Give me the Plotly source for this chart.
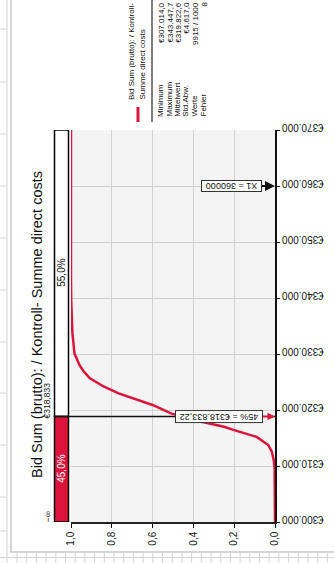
import plotly.graph_objects as go

# Cumulative ascending distribution of the simulated bid sum
values = [300000, 307014, 309500, 311000, 312500, 313750, 315200, 316400, 317000,
          317900, 318833.22, 319160, 319400, 320900, 322000, 323000, 324200, 325700,
          327000, 328000, 330100, 333700, 339600, 343447.7, 370000]
cum_prob = [0.0, 0.0, 0.002, 0.006, 0.015, 0.033, 0.09, 0.20, 0.25,
            0.36, 0.45, 0.49, 0.51, 0.60, 0.69, 0.77, 0.84, 0.909,
            0.94, 0.958, 0.983, 0.993, 0.999, 1.0, 1.0]

prob_ticks = [0.0, 0.2, 0.4, 0.6, 0.8, 1.0]
prob_tick_labels = ["0,0", "0,2", "0,4", "0,6", "0,8", "1,0"]
value_ticks = [300000, 310000, 320000, 330000, 340000, 350000, 360000, 370000]
value_tick_labels = ["€300.000", "€310.000", "€320.000", "€330.000",
                     "€340.000", "€350.000", "€360.000", "€370.000"]

left_delimiter = 318833.22
left_prob = 0.45
marker_x1 = 360000

title = "Bid Sum (brutto): / Kontroll- Summe direct costs"
legend_lines = ["Bid Sum (brutto): / Kontroll-", "Summe direct costs"]
stat_names = ["Minimum", "Maximum", "Mittelwert", "Std.Abw.", "Werte", "Fehler"]
stat_values = ["€307.014,0", "€343.447,7", "€319.822,6", "€4.617,0", "9915 / 1000", "8"]

RED = "#dc143c"
FONT = "Liberation Sans"

W, H = 334, 563
L, R, T, B = 71, 59, 130, 41
PW, PH = W - L - R, H - T - B


def fx(px):
    return (px - L) / PW


def fy(py):
    return (H - B - py) / PH


def prob_at(px):
    # data x for a pixel column (probability axis runs right to left)
    return (L + PW - px) / PW


fig = go.Figure()

fig.add_trace(go.Scatter(
    x=cum_prob, y=values, mode="lines",
    line=dict(color=RED, width=2.5), cliponaxis=False,
    hoverinfo="skip", showlegend=False))

# delimiter triangles
fig.add_trace(go.Scatter(
    x=[prob_at(56), prob_at(56)], y=[left_delimiter, value_ticks[0]],
    mode="markers", marker=dict(symbol="triangle-right", size=8, color="#111"),
    cliponaxis=False, hoverinfo="skip", showlegend=False))

shapes = []
ann = []

# spreadsheet grid around the chart window
grid = dict(color="#d4d4d4", width=1)
shapes.append(dict(type="line", xref="paper", yref="paper", x0=fx(11), x1=fx(11),
                   y0=fy(0), y1=fy(552), line=dict(color="#c8c8c8", width=1.5), layer="below"))
shapes.append(dict(type="line", xref="paper", yref="paper", x0=fx(7), x1=fx(7),
                   y0=fy(0), y1=fy(563), line=grid, layer="below"))
for ry in [29, 82, 134, 186, 238, 290, 342, 393, 445, 497, 531]:
    shapes.append(dict(type="line", xref="paper", yref="paper", x0=fx(0), x1=fx(7),
                       y0=fy(ry), y1=fy(ry), line=grid, layer="below"))
shapes.append(dict(type="line", xref="paper", yref="paper", x0=fx(10), x1=fx(334),
                   y0=fy(552), y1=fy(552), line=dict(color="#c8c8c8", width=1.5), layer="below"))
shapes.append(dict(type="line", xref="paper", yref="paper", x0=fx(0), x1=fx(334),
                   y0=fy(557.5), y1=fy(557.5), line=grid, layer="below"))
cx = 17.0
while cx < 334:
    shapes.append(dict(type="line", xref="paper", yref="paper", x0=fx(cx), x1=fx(cx),
                       y0=fy(552), y1=fy(563), line=grid, layer="below"))
    cx += 9.7

# delimiter bars
shapes.append(dict(type="rect", xref="paper", yref="y", x0=fx(54.5), x1=fx(68.5),
                   y0=left_delimiter, y1=value_ticks[-1], fillcolor="white",
                   line=dict(color="#000", width=1.5)))
shapes.append(dict(type="rect", xref="paper", yref="y", x0=fx(54.5), x1=fx(68.5),
                   y0=value_ticks[0], y1=left_delimiter, fillcolor=RED,
                   line=dict(color="#000", width=1.5)))
shapes.append(dict(type="line", xref="paper", yref="y", x0=fx(54), x1=1,
                   y0=left_delimiter, y1=left_delimiter, line=dict(color="#111", width=1.5)))

# legend marker and divider
shapes.append(dict(type="line", xref="paper", yref="paper", x0=fx(138), x1=fx(138),
                   y0=fy(107), y1=fy(122), line=dict(color=RED, width=3)))
shapes.append(dict(type="line", xref="paper", yref="paper", x0=fx(152), x1=fx(152),
                   y0=fy(-2), y1=fy(122), line=dict(color="#808080", width=2)))


def label(x, y, text, size=9, color="#111", yref="paper", **kw):
    d = dict(xref="paper", yref=yref, x=x, y=y, text=text, textangle=-90,
             showarrow=False, xanchor="center", yanchor="middle",
             font=dict(family=FONT, size=size, color=color))
    d.update(kw)
    ann.append(d)


label(fx(37), fy(325), title, size=14.5)
label(fx(61.5), (left_delimiter + value_ticks[-1]) / 2,
      f"{(1 - left_prob) * 100:.1f}%".replace(".", ","), size=10, yref="y")
label(fx(61.5), (left_delimiter + value_ticks[0]) / 2,
      f"{left_prob * 100:.1f}%".replace(".", ","), size=10, color="white", yref="y")
label(fx(47.5), left_delimiter, f"€{int(left_delimiter):,}", size=8.5, yref="y",
      yanchor="bottom", yshift=-4.5)
label(fx(47.5), value_ticks[0], "−∞", yref="y", yanchor="bottom", yshift=-3)

# value callouts pointing at the value axis
ann.append(dict(xref="x", yref="y", x=0, y=left_delimiter,
                text=f"{int(left_prob * 100)}% = €318.833,22", textangle=180,
                showarrow=True, axref="pixel", ayref="pixel", ax=-56, ay=0,
                arrowhead=2, arrowsize=1, arrowwidth=1.5, arrowcolor=RED,
                bgcolor="white", bordercolor="#333", borderwidth=1, borderpad=0,
                width=86, height=11, font=dict(family=FONT, size=9, color="#111")))
ann.append(dict(xref="x", yref="y", x=0, y=marker_x1,
                text=f"X1 = {marker_x1}", textangle=180,
                showarrow=True, axref="pixel", ayref="pixel", ax=-43, ay=0,
                arrowhead=2, arrowsize=1, arrowwidth=2, arrowcolor="#111",
                bgcolor="white", bordercolor="#333", borderwidth=1, borderpad=0,
                width=59, height=10, font=dict(family=FONT, size=9, color="#111")))

# legend block
for i, line in enumerate(legend_lines):
    label(fx(131.5 + 10 * i), fy(102), line, size=8, yanchor="bottom")
stat_x = [160.5, 169, 177.3, 185.7, 194.5, 203]
for sx, name, val in zip(stat_x, stat_names, stat_values):
    label(fx(sx), fy(119), name, size=8, yanchor="bottom")
    label(fx(sx + 1), fy(0), val, size=8, yanchor="top")

fig.update_layout(
    width=W, height=H,
    margin=dict(l=L, r=R, t=T, b=B, pad=0),
    paper_bgcolor="white", plot_bgcolor="#f4f4f4",
    showlegend=False,
    shapes=shapes, annotations=ann,
    font=dict(family=FONT, size=10, color="#111"),
    xaxis=dict(range=[1, 0], tickvals=prob_ticks, ticktext=prob_tick_labels,
               tickangle=-90, ticks="outside", ticklen=4, tickcolor="#111",
               showgrid=True, gridcolor="#d2d2d2", gridwidth=1, zeroline=False,
               showline=True, linecolor="#222", linewidth=1.5, automargin=False,
               tickfont=dict(family=FONT, size=10, color="#111")),
    yaxis=dict(range=[value_ticks[0], value_ticks[-1]], tickvals=value_ticks,
               ticktext=value_tick_labels, side="right", tickangle=180,
               ticklabelstandoff=42,
               ticks="outside", ticklen=3, tickcolor="#111",
               showgrid=True, gridcolor="#d2d2d2", gridwidth=1, zeroline=False,
               showline=True, linecolor="#111", linewidth=1.5, automargin=False,
               tickfont=dict(family=FONT, size=10, color="#111")),
)

fig.write_html("out.html", config={"displayModeBar": False})
